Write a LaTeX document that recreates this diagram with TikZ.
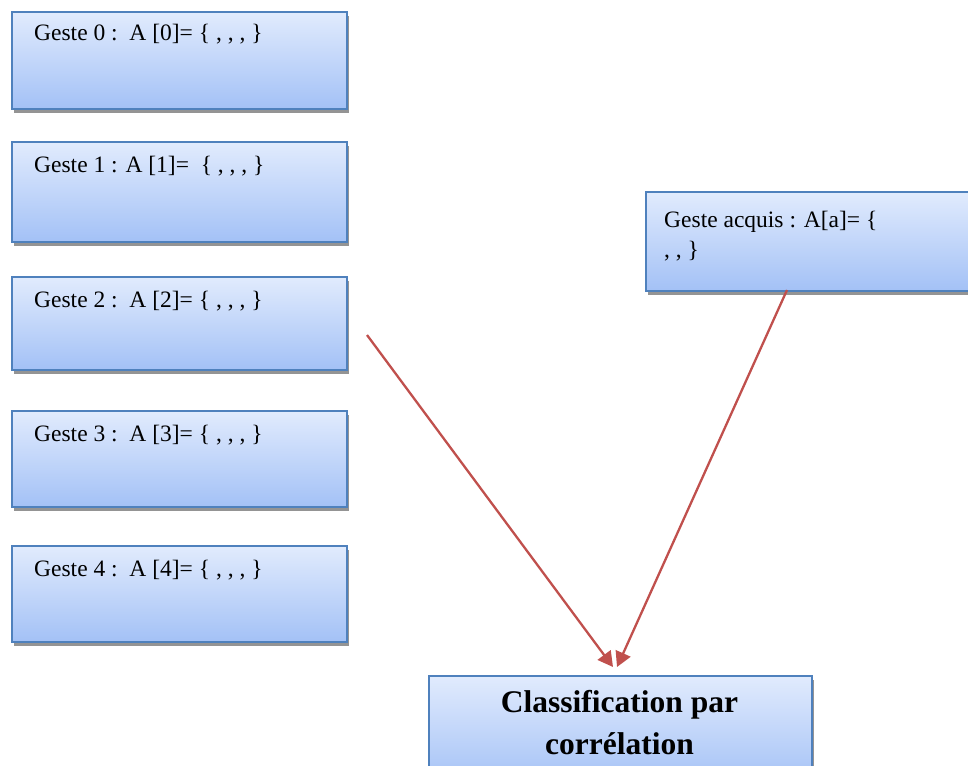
\documentclass[tikz,border=0pt]{standalone}
\usepackage{fontspec}
\setmainfont{Liberation Serif}
\usetikzlibrary{arrows.meta,shadows}
\definecolor{boxblue}{HTML}{4F81BD}
\definecolor{topc}{HTML}{E1EBFD}
\definecolor{botc}{HTML}{A3C1F6}
\definecolor{arrred}{HTML}{C0504D}
\begin{document}
\begin{tikzpicture}[x=1pt,y=-1pt,
  gbox/.style={rectangle, draw=boxblue, line width=2pt, top color=topc, bottom color=botc,
    drop shadow={shadow xshift=1.5pt, shadow yshift=-4pt, fill=black!42, opacity=1},
    inner sep=0pt, anchor=north west},
  gtxt/.style={anchor=base west, inner sep=0pt, font=\fontsize{23.5}{30}\selectfont},
  btxt/.style={anchor=north, inner sep=0pt, align=center, font=\fontsize{31.5}{42}\selectfont\bfseries},
  rarrow/.style={draw=arrred, line width=2.3pt, -{Triangle[length=15pt,width=16pt]}}]
\useasboundingbox (0,0) rectangle (968,765);
% left boxes
\node[gbox, minimum width=335pt, minimum height=97pt] (b0) at (11,11) {};
\node[gbox, minimum width=335pt, minimum height=100pt] (b1) at (11,141) {};
\node[gbox, minimum width=335pt, minimum height=93pt] (b2) at (11,276) {};
\node[gbox, minimum width=335pt, minimum height=96pt] (b3) at (11,410) {};
\node[gbox, minimum width=335pt, minimum height=96pt] (b4) at (11,545) {};
\node[gtxt] (t0) at (34,41) {Geste 0 :\ \ A [0]= \{ , , , \}};
\node[gtxt] (t1) at (34,172) {Geste 1 : A [1]=\ \ \{ , , , \}};
\node[gtxt] (t2) at (34,307) {Geste 2 :\ \ A [2]= \{ , , , \}};
\node[gtxt] (t3) at (34,441) {Geste 3 :\ \ A [3]= \{ , , , \}};
\node[gtxt] (t4) at (34,576) {Geste 4 :\ \ A [4]= \{ , , , \}};
% right box
\node[gbox, minimum width=340pt, minimum height=99pt] (ba) at (645,191) {};
\node[gtxt] (ta1) at (664,227) {Geste acquis : A[a]= \{};
\node[gtxt] (ta2) at (664,257) {, , \}};
% bottom box
\node[gbox, minimum width=383pt, minimum height=110pt] (bc) at (428,675) {};
\node[btxt] (tc) at (619.5,690) {Classification par\\corrélation};
% arrows
\coordinate (s1) at (367,335);
\coordinate (e1) at (613,667);
\coordinate (s2) at (787,290);
\coordinate (e2) at (617,667);
\draw[rarrow] (s1) -- (e1);
\draw[rarrow] (s2) -- (e2);
\end{tikzpicture}
\end{document}
